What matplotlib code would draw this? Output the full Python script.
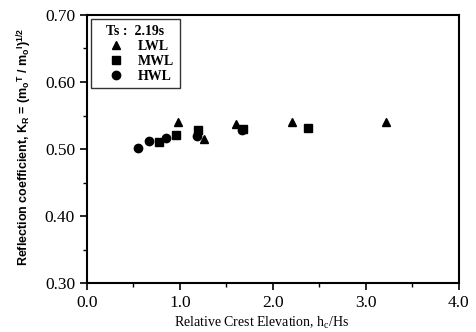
import matplotlib
matplotlib.use('Agg')
import matplotlib.pyplot as plt
from matplotlib.ticker import MultipleLocator

plt.rcParams['font.family'] = ['Liberation Serif', 'DejaVu Serif']
plt.rcParams['mathtext.fontset'] = 'custom'
plt.rcParams['mathtext.rm'] = 'Liberation Serif'
plt.rcParams['mathtext.it'] = 'Liberation Serif'
plt.rcParams['mathtext.bf'] = 'Liberation Serif:bold'
plt.rcParams['mathtext.sf'] = 'Liberation Sans:bold'

# data
lwl_x = [0.985, 1.26, 1.60, 2.21, 3.22]
lwl_y = [0.541, 0.515, 0.537, 0.541, 0.540]
mwl_x = [0.78, 0.96, 1.20, 1.68, 2.38]
mwl_y = [0.511, 0.521, 0.528, 0.530, 0.531]
hwl_x = [0.545, 0.67, 0.846, 1.18, 1.67]
hwl_y = [0.501, 0.512, 0.516, 0.520, 0.528]

fig = plt.figure(figsize=(4.77, 3.32), dpi=100)
ax = fig.add_axes([0.182, 0.147, 0.780, 0.808])

ax.plot(lwl_x, lwl_y, '^', color='black', ms=6, label='LWL')
ax.plot(mwl_x, mwl_y, 's', color='black', ms=6, label='MWL')
ax.plot(hwl_x, hwl_y, 'o', color='black', ms=6, label='HWL')

ax.set_xlim(0, 4.0)
ax.set_ylim(0.30, 0.70)
ax.xaxis.set_major_locator(MultipleLocator(1.0))
ax.xaxis.set_minor_locator(MultipleLocator(0.5))
ax.yaxis.set_major_locator(MultipleLocator(0.1))
ax.yaxis.set_minor_locator(MultipleLocator(0.05))
ax.xaxis.set_major_formatter(lambda v, p: '%.1f' % v)
ax.yaxis.set_major_formatter(lambda v, p: '%.2f' % v)
ax.tick_params(which='major', direction='out', length=5, width=1.2, labelsize=12.5)
ax.tick_params(which='minor', direction='out', length=3, width=1)
for s in ax.spines.values():
    s.set_linewidth(1.5)

ax.set_xlabel('Relative Crest Elevation, h$_c$/Hs', fontsize=10)
ax.xaxis.set_label_coords(0.47, -0.12)
ax.set_ylabel(r'Reflection coefficient, K$_{\mathsf{R}}$ = (m$_{\mathsf{o}}$$^{\mathsf{T}}$ / m$_{\mathsf{o}}$$^{\mathsf{I}}$)$^{\mathsf{1/2}}$',
              fontsize=9, fontweight='bold', family='Liberation Sans')
ax.yaxis.set_label_coords(-0.145, 0.51)

leg = ax.legend(loc='upper left', title='Ts :  2.19s', fontsize=10,
                title_fontproperties={'weight': 'bold', 'size': 10},
                prop={'weight': 'bold', 'size': 10}, frameon=True, fancybox=False,
                edgecolor='black', borderpad=0.4, handlelength=2.8, handletextpad=0.2,
                labelspacing=0.15, markerscale=1.0, borderaxespad=0.3)
leg.get_frame().set_linewidth(1.0)

fig.savefig('out.png', dpi=100)
